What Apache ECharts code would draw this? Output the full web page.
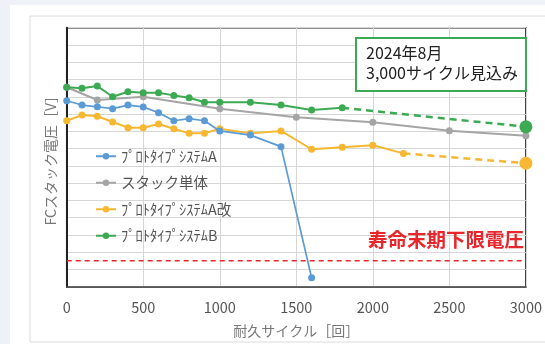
<!DOCTYPE html>
<html>
<head>
<meta charset="utf-8">
<title>FCスタック電圧</title>
<script src="https://cdn.jsdelivr.net/npm/echarts@6/dist/echarts.min.js"></script>
<style>
  html, body { margin: 0; padding: 0; background: #eef2f8; }
  #main { width: 545px; height: 344px; }
</style>
</head>
<body>
<div id="main"></div>
<script type="text/javascript">
// サイクル数 [回]
var cyclesA = [0, 100, 200, 300, 400, 500, 600, 700, 800, 900, 1000, 1200, 1400, 1600];
var voltA = [10.77, 10.52, 10.42, 10.31, 10.52, 10.41, 10.08, 9.61, 9.73, 9.61, 9.02, 8.78, 8.11, 0.52];

var cyclesStack = [0, 200, 500, 1000, 1500, 2000, 2500, 3000];
var voltStack = [11.55, 10.81, 11.0, 10.31, 9.81, 9.52, 9.03, 8.74];

var cyclesAK = [0, 100, 200, 300, 400, 500, 600, 700, 800, 900, 1000, 1200, 1400, 1600, 1800, 2000, 2200];
var voltAK = [9.61, 9.94, 9.87, 9.54, 9.21, 9.21, 9.42, 9.15, 8.88, 8.88, 9.15, 8.88, 9.02, 7.96, 8.07, 8.19, 7.72];
var projAK = [[2200, 7.72], [3000, 7.15]];

var cyclesB = [0, 100, 200, 300, 400, 500, 600, 700, 800, 900, 1000, 1200, 1400, 1600, 1800];
var voltB = [11.55, 11.49, 11.62, 11.0, 11.29, 11.23, 11.23, 11.08, 10.94, 10.68, 10.68, 10.68, 10.52, 10.23, 10.36];
var projB = [[1800, 10.36], [3000, 9.26]];

var lowerLimit = 1.5;

var names = ['ﾌﾟﾛﾄﾀｲﾌﾟｼｽﾃﾑA', 'スタック単体', 'ﾌﾟﾛﾄﾀｲﾌﾟｼｽﾃﾑA改', 'ﾌﾟﾛﾄﾀｲﾌﾟｼｽﾃﾑB'];
var colors = ['#5b9bd5', '#a5a5a5', '#f7b731', '#3caa52'];

function pairs(xs, ys) {
    return xs.map(function (x, i) { return [x, ys[i]]; });
}
function endBig(arr) {
    // 最終点だけ大きいマーカー
    return arr.map(function (p, i) {
        if (i === arr.length - 1) return { value: p, symbolSize: 13 };
        return { value: p, symbolSize: 0 };
    });
}

var myChart = echarts.init(document.getElementById('main'));
var option = {
    backgroundColor: '#eef2f8',
    animation: false,
    textStyle: { fontFamily: '"Noto Sans CJK JP", "Noto Sans", sans-serif' },
    graphic: [
        { type: 'rect', z: -10, shape: { x: 10, y: 5, width: 545, height: 350 }, style: { fill: '#fff' } },
        { type: 'rect', z: -9, shape: { x: 30, y: 16, width: 530, height: 326 }, style: { fill: '#fff', stroke: '#dcdcdc', lineWidth: 1 } },
        { type: 'rect', z: 10, shape: { x: 356, y: 38, width: 170, height: 53 }, style: { fill: '#fff', stroke: '#3caa52', lineWidth: 2 } },
        { type: 'text', z: 11, left: 366, top: 45, style: { text: '2024年8月', font: '16px "Noto Sans CJK JP"', fill: '#222' } },
        { type: 'text', z: 11, left: 366, top: 65, style: { text: '3,000サイクル見込み', font: '16px "Noto Sans CJK JP"', fill: '#222' } },
        { type: 'text', z: 11, left: 368, top: 230, style: { text: '寿命末期下限電圧', font: 'bold 19.5px "Noto Sans CJK JP"', fill: '#e8262b' } }
    ],
    legend: {
        orient: 'vertical',
        left: 95,
        top: 149,
        padding: 0,
        itemWidth: 20,
        itemHeight: 8,
        itemGap: 12,
        data: names,
        textStyle: { color: '#555', fontSize: 14.5 }
    },
    grid: {
        left: 66.7, right: 8.3, top: 27.7, bottom: 57.3,
        show: true, borderColor: '#222', borderWidth: 1.5
    },
    xAxis: {
        type: 'value',
        min: 0, max: 3000, interval: 500,
        name: '耐久サイクル［回］',
        nameLocation: 'middle',
        nameGap: 37,
        nameTextStyle: { color: '#777', fontSize: 14 },
        axisLine: { show: true, lineStyle: { color: '#444', width: 1.5 } },
        axisTick: { show: false },
        axisLabel: { color: '#555', fontSize: 14.5, margin: 14, formatter: function (v) { return String(v); } },
        splitLine: { show: true, lineStyle: { color: '#d6d6d6', width: 1 } }
    },
    yAxis: {
        type: 'value',
        min: 0, max: 15, interval: 1,
        name: 'FCスタック電圧［V］',
        nameLocation: 'middle',
        nameGap: 9,
        nameTextStyle: { color: '#777', fontSize: 14 },
        axisLine: { show: true, lineStyle: { color: '#222', width: 2 } },
        axisTick: { show: false },
        axisLabel: { show: false },
        splitLine: { show: true, lineStyle: { color: '#d6d6d6', width: 1 } }
    },
    series: [
        {
            name: 'limit', type: 'line', silent: true, symbol: 'none',
            data: [[0, lowerLimit], [3000, lowerLimit]],
            lineStyle: { color: '#e8262b', width: 1.5, type: [5, 4] }, z: 1
        },
        {
            name: names[1], type: 'line', color: colors[1], symbol: 'circle', symbolSize: 7,
            data: pairs(cyclesStack, voltStack), lineStyle: { width: 2 }, z: 2
        },
        {
            name: names[2], type: 'line', color: colors[2], symbol: 'circle', symbolSize: 7,
            data: pairs(cyclesAK, voltAK), lineStyle: { width: 2 }, z: 3
        },
        {
            name: 'projAK', type: 'line', color: colors[2], symbol: 'circle',
            data: endBig(projAK), lineStyle: { width: 2.5, type: [7, 5] }, z: 3
        },
        {
            name: names[0], type: 'line', color: colors[0], symbol: 'circle', symbolSize: 7,
            data: pairs(cyclesA, voltA), lineStyle: { width: 1.7 }, z: 4
        },
        {
            name: names[3], type: 'line', color: colors[3], symbol: 'circle', symbolSize: 7,
            data: pairs(cyclesB, voltB), lineStyle: { width: 2 }, z: 5
        },
        {
            name: 'projB', type: 'line', color: colors[3], symbol: 'circle',
            data: endBig(projB), lineStyle: { width: 2.5, type: [7, 5] }, z: 5
        }
    ]
};
myChart.setOption(option);
</script>
</body>
</html>
